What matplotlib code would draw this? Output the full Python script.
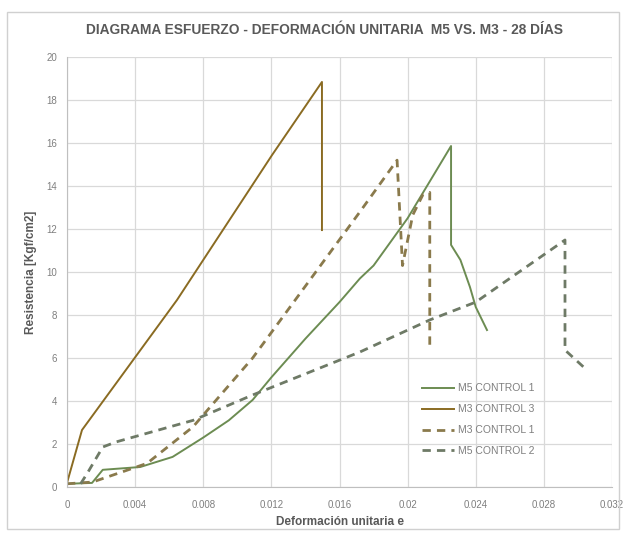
import matplotlib
matplotlib.use("Agg")
import matplotlib.pyplot as plt
from matplotlib.patches import Rectangle

# ---- data ----
m5c1_x = [0.0, 0.00147, 0.0021, 0.0043, 0.0062, 0.008, 0.0095, 0.0109, 0.012, 0.014, 0.016, 0.0172, 0.018, 0.020, 0.02255, 0.02255, 0.0231, 0.02366, 0.024, 0.02466]
m5c1_y = [0.15, 0.19, 0.8, 0.93, 1.4, 2.3, 3.1, 4.05, 5.1, 6.9, 8.6, 9.7, 10.3, 12.5, 15.86, 11.26, 10.56, 9.3, 8.37, 7.3]

m3c3_x = [0.0, 0.00088, 0.00646, 0.01204, 0.01497, 0.01497]
m3c3_y = [0.19, 2.65, 8.7, 15.44, 18.84, 11.95]

m3c1_x = [0.0, 0.0015, 0.0047, 0.0074, 0.0109, 0.0172, 0.01938, 0.0197, 0.0203, 0.0209, 0.0213, 0.0213]
m3c1_y = [0.15, 0.23, 1.1, 2.8, 6.0, 12.8, 15.2, 10.3, 12.65, 13.6, 13.7, 6.47]

m5c2_x = [0.0008, 0.0012, 0.0021, 0.0029, 0.0074, 0.0109, 0.0172, 0.0213, 0.024, 0.0289, 0.02924, 0.02924, 0.0304]
m5c2_y = [0.15, 0.65, 1.86, 2.1, 3.1, 4.28, 6.28, 7.77, 8.6, 11.3, 11.49, 6.37, 5.53]

labels = ["M5 CONTROL 1", "M3 CONTROL 3", "M3 CONTROL 1", "M5 CONTROL 2"]
xticks = [0, 0.004, 0.008, 0.012, 0.016, 0.02, 0.024, 0.028, 0.032]
xticklabels = ["0", "0.004", "0.008", "0.012", "0.016", "0.02", "0.024", "0.028", "0.032"]
yticks = [0, 2, 4, 6, 8, 10, 12, 14, 16, 18, 20]

title = "DIAGRAMA ESFUERZO - DEFORMACIÓN UNITARIA  M5 VS. M3 - 28 DÍAS"
xlabel = "Deformación unitaria e"
ylabel = "Resistencia [Kgf/cm2]"

plt.rcParams['font.family'] = ['Liberation Sans', 'DejaVu Sans']

W, H = 627, 534
fig = plt.figure(figsize=(W/100, H/100), dpi=100)
ax = fig.add_axes([67/W, 1 - 487/H, (612-67)/W, (487-57)/H])

# chart border
fig.patches.append(Rectangle((7/W, 5/H), 612/W, 517/H, transform=fig.transFigure,
                             fill=False, edgecolor='#d0d0d0', lw=1))

c_m5 = '#6c8c52'
c_m3 = '#8a6b22'
c_m3d = '#8a7a4c'
c_m5d = '#6e7a66'

ax.plot(m5c1_x, m5c1_y, color=c_m5, lw=1.4, label=labels[0])
ax.plot(m3c3_x, m3c3_y, color=c_m3, lw=1.4, label=labels[1])
ax.plot(m3c1_x, m3c1_y, color=c_m3d, lw=2, ls=(0, (3, 2.2)), label=labels[2])
ax.plot(m5c2_x, m5c2_y, color=c_m5d, lw=2, ls=(0, (3, 2.2)), label=labels[3])

ax.set_xlim(0, 0.032)
ax.set_ylim(0, 20)
ax.set_xticks(xticks)
ax.set_xticklabels(xticklabels)
ax.set_yticks(yticks)
ax.grid(True, color='#d9d9d9', lw=0.9)
ax.set_axisbelow(True)
for s in ['top', 'right']:
    ax.spines[s].set_visible(False)
for s in ['left', 'bottom']:
    ax.spines[s].set_color('#bfbfbf')
ax.tick_params(axis='x', length=0, labelsize=7, colors='#7f7f7f', pad=9)
ax.tick_params(axis='y', length=0, labelsize=7, colors='#7f7f7f', pad=7)

ax.set_xlabel(xlabel, fontsize=8.5, fontweight='bold', color='#595959', labelpad=5)
ax.set_ylabel(ylabel, fontsize=8.5, fontweight='bold', color='#595959', labelpad=7)
fig.text(324/W, 1 - 30/H, title, ha='center', va='center',
         fontsize=9.9, fontweight='bold', color='#595959')

leg = ax.legend(loc='upper left', bbox_to_anchor=(0.635, 0.263), frameon=False,
                fontsize=7.5, handlelength=3, labelspacing=1.05, handletextpad=0.4)
for t in leg.get_texts():
    t.set_color('#7f7f7f')

fig.savefig('out.png', dpi=100)
